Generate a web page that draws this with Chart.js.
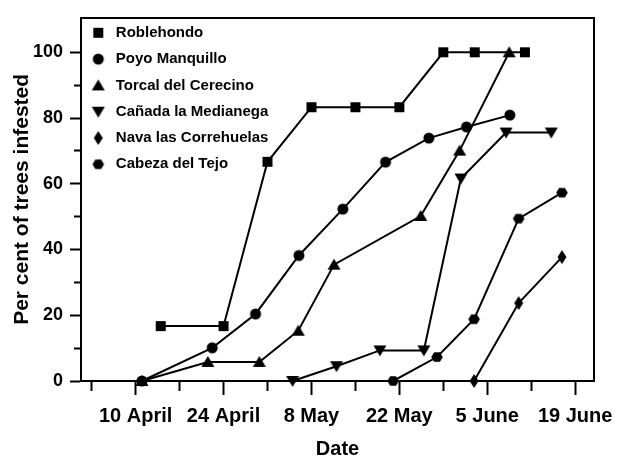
<!DOCTYPE html>
<html>
<head>
<meta charset="utf-8">
<script src="https://cdn.jsdelivr.net/npm/chart.js@4"></script>
<style>
  html, body { margin: 0; padding: 0; background: #fff; }
</style>
</head>
<body>
<canvas id="chart" width="620" height="460"></canvas>
<script>
// x values are days counted from 10 April
const siteNames = ['Roblehondo', 'Poyo Manquillo', 'Torcal del Cerecino',
  'Cañada la Medianega', 'Nava las Correhuelas', 'Cabeza del Tejo'];

const robleDays = [4, 14, 21, 28, 35, 42, 49, 54, 62];
const robleValues = [16.7, 16.7, 66.7, 83.3, 83.3, 83.3, 100, 100, 100];

const poyoDays = [1, 12.2, 19.1, 26, 33, 39.8, 46.7, 52.7, 59.6];
const poyoValues = [0, 10.1, 20.4, 38.2, 52.3, 66.6, 73.9, 77.3, 80.9];

const torcalDays = [1, 11.5, 19.7, 25.9, 31.6, 45.4, 51.6, 59.5];
const torcalValues = [0, 5.8, 5.8, 15.3, 35.4, 50.2, 70.1, 100];

const canadaDays = [25, 32, 38.9, 45.9, 51.8, 59, 66.2];
const canadaValues = [0, 4.5, 9.3, 9.3, 61.6, 75.6, 75.6];

const navaDays = [53.9, 61, 67.9];
const navaValues = [0, 23.7, 37.7];

const cabezaDays = [41, 48, 53.9, 61, 67.9];
const cabezaValues = [0, 7.3, 18.8, 49.4, 57.3];

const xTickDays = [0, 14, 28, 42, 56, 70];
const xTickLabels = ['10 April', '24 April', '8 May', '22 May', '5 June', '19 June'];

const markerShapes = ['square', 'circle', 'up', 'down', 'diamond', 'hexagon'];

function makeMarker(shape, w, h, cx) {
  const c = document.createElement('canvas');
  c.width = w; c.height = h;
  const g = c.getContext('2d');
  const cy = h / 2;
  g.fillStyle = '#000';
  g.beginPath();
  if (shape === 'square') {
    g.rect(cx - 5, cy - 5, 10, 10);
  } else if (shape === 'circle') {
    g.arc(cx, cy, 5.5, 0, Math.PI * 2);
  } else if (shape === 'up') {
    g.moveTo(cx, cy - 6); g.lineTo(cx + 6.5, cy + 5); g.lineTo(cx - 6.5, cy + 5);
  } else if (shape === 'down') {
    g.moveTo(cx, cy + 6); g.lineTo(cx + 6.5, cy - 5); g.lineTo(cx - 6.5, cy - 5);
  } else if (shape === 'diamond') {
    g.moveTo(cx, cy - 7); g.lineTo(cx + 4.5, cy); g.lineTo(cx, cy + 7); g.lineTo(cx - 4.5, cy);
  } else {
    for (let k = 0; k < 6; k++) {
      const a = k * Math.PI / 3;
      g.lineTo(cx + 5.8 * Math.cos(a), cy + 5.4 * Math.sin(a));
    }
  }
  g.closePath();
  g.fill();
  return c;
}

const pointMarkers = markerShapes.map(s => makeMarker(s, 16, 16, 8));
const legendMarkers = markerShapes.map(s => makeMarker(s, 20, 16, 8));

const seriesDays = [robleDays, poyoDays, torcalDays, canadaDays, navaDays, cabezaDays];
const seriesValues = [robleValues, poyoValues, torcalValues, canadaValues, navaValues, cabezaValues];

const datasets = siteNames.map((name, i) => ({
  label: name,
  data: seriesDays[i].map((d, j) => ({ x: d, y: seriesValues[i][j] })),
  borderColor: '#000',
  backgroundColor: '#000',
  borderWidth: 2,
  pointStyle: pointMarkers[i],
  pointRadius: 5,
  tension: 0,
  fill: false,
  clip: false
}));

Chart.defaults.font.family = "'Liberation Sans', Arial, sans-serif";
Chart.defaults.font.weight = 'bold';
Chart.defaults.color = '#000';

const xMin = -8.7, xMax = 73;
const yMin = 0, yMax = 110.5;

new Chart(document.getElementById('chart'), {
  type: 'line',
  data: { datasets: datasets },
  options: {
    responsive: false,
    animation: false,
    layout: { padding: { top: 12, right: 26, bottom: 0, left: 0 } },
    plugins: {
      tooltip: { enabled: false },
      legend: {
        position: 'chartArea',
        align: 'start',
        // empty title only pushes the vertical legend below the top border
        title: { display: true, text: ' ', padding: 0, font: { size: 14, lineHeight: 1 } },
        labels: {
          usePointStyle: true,
          pointStyleWidth: 16,
          padding: 11.3,
          color: '#000',
          font: { size: 15, weight: 'bold' },
          generateLabels(chart) {
            const items = Chart.defaults.plugins.legend.labels.generateLabels(chart);
            items.forEach((it, i) => { it.pointStyle = legendMarkers[i]; });
            return items;
          }
        }
      }
    },
    scales: {
      x: {
        type: 'linear',
        position: 'bottom',
        min: xMin, max: xMax,
        afterBuildTicks(scale) {
          const t = [];
          for (let d = -7; d <= 70; d += 7) t.push({ value: d });
          scale.ticks = t;
        },
        afterFit(scale) {
          scale.height = 79;
          scale.paddingLeft = 0;
          scale.paddingRight = 0;
        },
        grid: {
          drawOnChartArea: false,
          color: '#000',
          tickWidth: 2,
          tickLength: 14,
          tickBorderDash: c => (c.tick && c.tick.value % 14 !== 0) ? [9, 100] : []
        },
        border: { color: '#000', width: 2 },
        ticks: {
          autoSkip: false,
          maxRotation: 0,
          padding: 9,
          font: { size: 20, weight: 'bold' },
          callback: v => {
            const i = xTickDays.indexOf(v);
            return i >= 0 ? xTickLabels[i] : '';
          }
        },
        title: {
          display: true,
          text: 'Date',
          font: { size: 20, weight: 'bold', lineHeight: 1 },
          padding: { top: 0, bottom: 1 }
        }
      },
      y: {
        type: 'linear',
        position: 'left',
        min: yMin, max: yMax,
        afterBuildTicks(scale) {
          const t = [];
          for (let v = 0; v <= 100; v += 10) t.push({ value: v });
          scale.ticks = t;
        },
        afterFit(scale) { scale.width = 81; },
        grid: {
          drawOnChartArea: false,
          color: '#000',
          tickWidth: 2,
          tickLength: 11,
          tickBorderDash: c => (c.tick && c.tick.value % 20 !== 0) ? [0, 4, 60] : []
        },
        border: { color: '#000', width: 2 },
        ticks: {
          padding: 7,
          font: { size: 18, weight: 'bold' },
          callback: v => (v % 20 === 0 ? String(v) : '')
        },
        title: {
          display: true,
          text: 'Per cent of trees infested',
          font: { size: 21, weight: 'bold', lineHeight: 1 },
          padding: { top: 12, bottom: 0 }
        }
      },
      xTop: {
        type: 'linear',
        position: 'top',
        min: xMin, max: xMax,
        grid: { drawOnChartArea: false, drawTicks: false },
        ticks: { display: false },
        border: { color: '#000', width: 2 }
      },
      yRight: {
        type: 'linear',
        position: 'right',
        min: yMin, max: yMax,
        grid: { drawOnChartArea: false, drawTicks: false },
        ticks: { display: false },
        border: { color: '#000', width: 2 }
      }
    }
  }
});
</script>
</body>
</html>
